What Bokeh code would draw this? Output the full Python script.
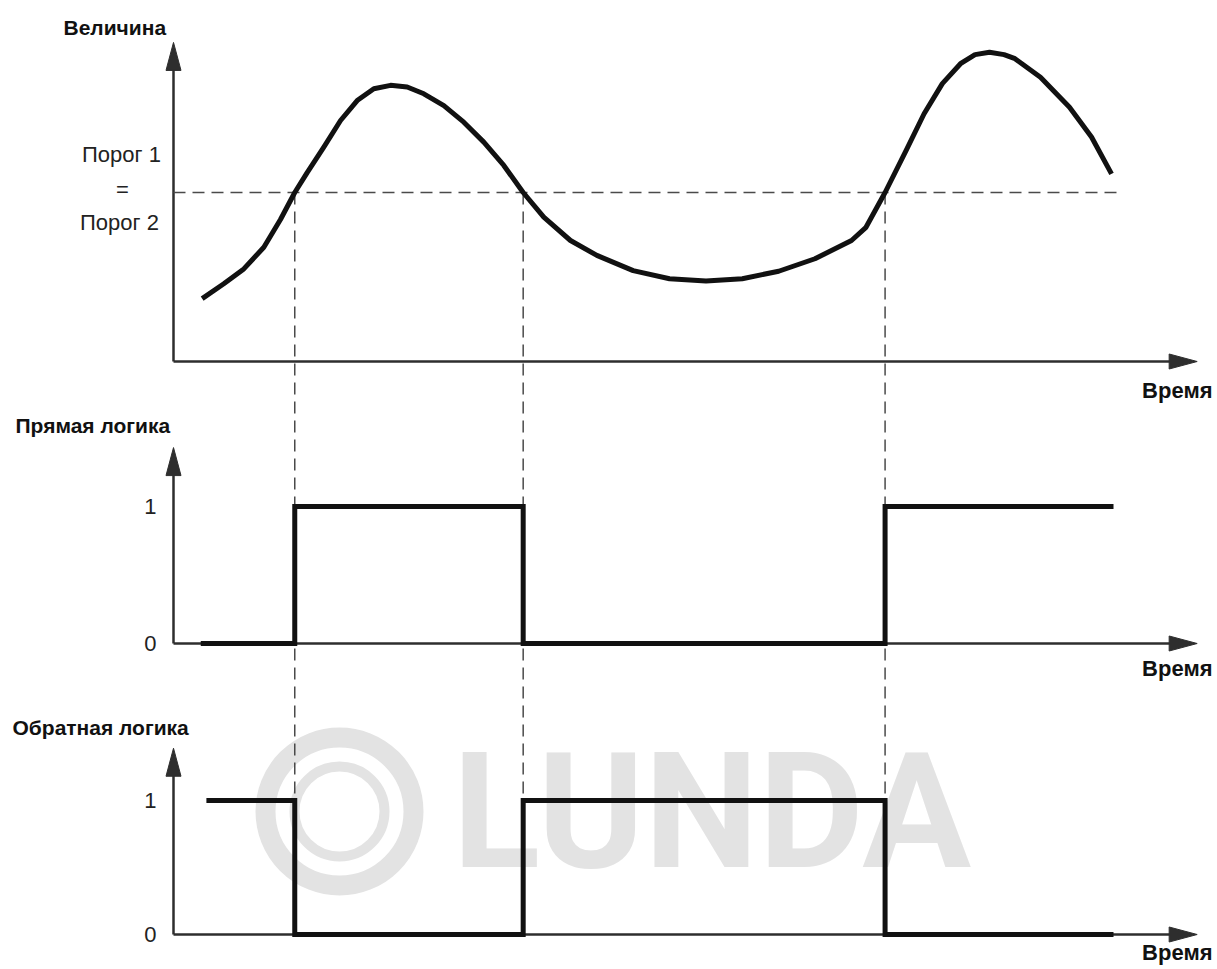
from bokeh.plotting import figure
from bokeh.models import Range1d
from bokeh.core.properties import value
from bokeh.embed import file_html
from bokeh.resources import INLINE

# ---------------- data ----------------
curve_t = [3.05, 5.35, 7.48, 9.61, 11.38, 12.9, 14.22, 15.99, 17.77, 19.54, 21.31,
           23.09, 24.86, 26.63, 28.76, 30.88, 33.01, 35.14, 37.2, 39.39, 42.23,
           45.04, 48.90, 52.77, 56.65, 60.51, 64.38, 68.24, 72.13, 73.67, 75.7,
           77.93, 79.85, 81.79, 83.72, 85.27, 86.81, 88.36, 89.52, 92.23, 95.32,
           97.66, 99.79]
curve_v = [1.86, 2.30, 2.74, 3.38, 4.20, 5.00, 5.59, 6.34, 7.13, 7.72, 8.07,
           8.17, 8.12, 7.92, 7.57, 7.08, 6.49, 5.80, 5.00, 4.27, 3.58,
           3.14, 2.69, 2.45, 2.38, 2.45, 2.67, 3.04, 3.58, 3.97, 5.00,
           6.24, 7.33, 8.22, 8.81, 9.08, 9.15, 9.08, 8.96, 8.41, 7.52,
           6.64, 5.55]
threshold = 5.0
threshold_end = 100.7
switch_times = [12.9, 37.2, 75.7]
direct_start, inverse_start, signal_end = 2.9, 3.5, 100.0
direct_states = [0, 1, 0, 1, 1]
inverse_states = [1, 0, 1, 0, 0]
tick_values = [0, 1]
tick_labels = ["0", "1"]
threshold_labels = ["Порог 1", "=", "Порог 2"]
panel_titles = ["Величина", "Прямая логика", "Обратная логика"]
x_title = "Время"
watermark = "LUNDA"

# ---------------- layout ----------------
W, H = 1217, 969
T0_PX, PX_PER_T = 173.0, 9.4          # frame x of t=0, pixels per time unit
T_AXIS_END = 108.9                    # time-axis arrow tip
# panel name: (frame y of zero, pixels per unit, value-axis arrow tip)
PANELS = {"top": (361.0, 33.8, 9.44), "mid": (643.0, 137.0, 1.43), "bot": (934.0, 134.0, 1.39)}
HEAD_L, HEAD_W = 28.0, 15.0
INK = "#111111"
AXIS = "#2e2e2e"
DASH = "#4a4a4a"
WM = "#e3e3e3"
BASE_FIX = 0.38                        # renderer's baseline shift, in em


def px_x(t):
    return T0_PX + t * PX_PER_T


def px_y(panel, v):
    z, u, _ = PANELS[panel]
    return z - v * u


def val_y(panel, py):
    z, u, _ = PANELS[panel]
    return (z - py) / u


p = figure(width=W, height=H, output_backend="svg", toolbar_location=None,
           x_range=Range1d(-T0_PX / PX_PER_T, (W - T0_PX) / PX_PER_T),
           y_range=Range1d(H, 0),
           x_axis_type=None, y_axis_type=None, min_border=0,
           outline_line_color=None, background_fill_color="white",
           border_fill_color="white")
p.extra_x_ranges = {"px": Range1d(0, W)}
p.extra_y_ranges = {name: Range1d(-(H - z) / u, z / u) for name, (z, u, _) in PANELS.items()}
p.grid.visible = False

# ---------------- watermark ----------------
p.scatter(x=[339], y=[811], x_range_name="px", marker="circle", size=148,
          fill_color=None, line_color=WM, line_width=20)
p.scatter(x=[339], y=[811], x_range_name="px", marker="circle", size=90,
          fill_color=None, line_color=WM, line_width=10)
p.text(x=[452], y=[873 - BASE_FIX * 162], x_range_name="px", text=[watermark],
       text_font=value("Roboto"), text_font_style="bold", text_font_size="162px",
       text_color=WM, text_align="left", text_baseline="alphabetic")

# ---------------- axes ----------------
for name, (z, u, vtop) in PANELS.items():
    p.segment(x0=[0, 0], y0=[0, 0],
              x1=[0, T_AXIS_END - HEAD_L / 2 / PX_PER_T], y1=[vtop - HEAD_L / 2 / u, 0],
              y_range_name=name, line_color=AXIS, line_width=2.5)
    tx, ty = px_x(0), px_y(name, vtop)
    hx, hy = px_x(T_AXIS_END), px_y(name, 0)
    p.patches(xs=[[tx, tx - HEAD_W / 2, tx + HEAD_W / 2], [hx, hx - HEAD_L, hx - HEAD_L]],
              ys=[[ty, ty + HEAD_L, ty + HEAD_L], [hy, hy - HEAD_W / 2, hy + HEAD_W / 2]],
              x_range_name="px", fill_color=AXIS, line_color=AXIS, line_width=1)

# ---------------- threshold and switching guides ----------------
p.segment(x0=[0], y0=[threshold], x1=[threshold_end], y1=[threshold], y_range_name="top",
          line_color=DASH, line_width=1.5, line_dash="12 7")
thr_in_bot = val_y("bot", px_y("top", threshold))
p.segment(x0=switch_times, y0=[thr_in_bot] * len(switch_times), x1=switch_times,
          y1=[0] * len(switch_times), y_range_name="bot",
          line_color=DASH, line_width=1.5, line_dash="12 7")

# ---------------- curve and logic signals ----------------
p.line(curve_t, curve_v, y_range_name="top", line_color=INK, line_width=5,
       line_join="round")
p.step([direct_start] + switch_times + [signal_end], direct_states, mode="after",
       y_range_name="mid", line_color=INK, line_width=5, line_join="miter")
p.step([inverse_start] + switch_times + [signal_end], inverse_states, mode="after",
       y_range_name="bot", line_color=INK, line_width=5, line_join="miter")

# ---------------- texts ----------------
fix22 = BASE_FIX * 22
fix21 = BASE_FIX * 21
for name in ("mid", "bot"):
    p.text(x=[0, 0], y=tick_values, text=tick_labels, y_range_name=name,
           x_offset=-17, y_offset=8 - fix22, text_align="right", text_baseline="alphabetic",
           text_font=value("Liberation Sans"), text_font_size="22px", text_color="#222222")

p.text(x=[0, 0, 0], y=[threshold] * 3, text=threshold_labels, y_range_name="top",
       x_offset=[-52, -51, -54], y_offset=[-30 - fix22, 5 - fix22, 38 - fix22],
       text_align="center", text_baseline="alphabetic", text_font=value("Liberation Sans"),
       text_font_size="22px", text_color="#222222")

p.text(x=[63, 15, 12], y=[35 - fix21, 433 - fix21, 735 - fix21], x_range_name="px",
       text=panel_titles, text_align="left", text_baseline="alphabetic",
       text_font=value("Liberation Sans"), text_font_style="bold", text_font_size="21px",
       text_color="#111111")
p.text(x=[1212, 1212, 1212], y=[398 - fix22, 676 - fix22, 960 - fix22], x_range_name="px",
       text=[x_title] * 3, text_align="right", text_baseline="alphabetic",
       text_font=value("Liberation Sans"), text_font_style="bold", text_font_size="22px",
       text_color="#111111")

open("out.html", "w").write(file_html(p, INLINE))
